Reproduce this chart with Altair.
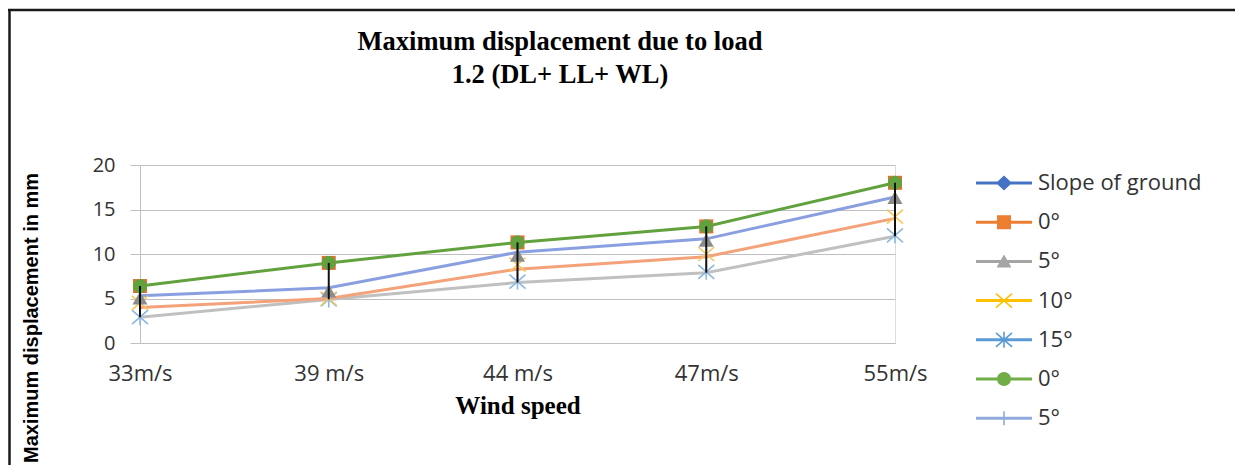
import math
import altair as alt
import pandas as pd

# ---------------- data ----------------
cats = ["33m/s", "39 m/s", "44 m/s", "47m/s", "55m/s"]

# marker-only series (first set)
mk_0 = [6.4, 9.0, 11.3, 13.1, 18.0]
mk_5 = [5.0, 5.8, 9.8, 11.5, 16.3]
mk_10 = [4.5, 5.0, 8.8, 10.0, 14.2]
mk_15 = [2.9, 4.9, 6.9, 8.0, 12.1]

# line series (second set)
ln_0 = [6.4, 9.0, 11.3, 13.1, 18.0]
ln_5 = [5.3, 6.2, 10.2, 11.7, 16.4]
ln_10 = [4.0, 5.0, 8.3, 9.7, 14.0]
ln_15 = [2.9, 4.9, 6.8, 7.9, 12.0]

legend_labels = ["Slope of ground", "0°", "5°", "10°", "15°", "0°", "5°"]
y_ticks = [0, 5, 10, 15, 20]

series = {
    "mk_0": mk_0, "mk_5": mk_5, "mk_10": mk_10, "mk_15": mk_15,
    "ln_0": ln_0, "ln_5": ln_5, "ln_10": ln_10, "ln_15": ln_15,
}
rows = []
for name, vals in series.items():
    for c, v in zip(cats, vals):
        rows.append({"cat": c, "series": name, "v": v})
df = pd.DataFrame(rows)

# ---------------- symbol paths (unit = 28 px) ----------------
U = 28.0


def poly(pts):
    area = 0.0
    for i in range(len(pts)):
        x1, y1 = pts[i]
        x2, y2 = pts[(i + 1) % len(pts)]
        area += x1 * y2 - x2 * y1
    if area < 0:
        pts = pts[::-1]
    return "M" + "L".join(f"{x:.4f},{y:.4f}" for x, y in pts) + "Z"


def seg(x1, y1, x2, y2, hw):
    x1, y1, x2, y2, hw = x1 / U, y1 / U, x2 / U, y2 / U, hw / U
    d = math.hypot(x2 - x1, y2 - y1)
    nx, ny = -(y2 - y1) / d * hw, (x2 - x1) / d * hw
    return poly([(x1 + nx, y1 + ny), (x2 + nx, y2 + ny), (x2 - nx, y2 - ny), (x1 - nx, y1 - ny)])


def shape(pts):
    return poly([(x / U, y / U) for x, y in pts])


line_p = seg(-28, 0, 28, 0, 1.5)
square_p = shape([(-7, -7), (7, -7), (7, 7), (-7, 7)])
diamond_p = shape([(0, -7.5), (8, 0), (0, 7.5), (-8, 0)])
tri_p = shape([(0, -7), (7.5, 6), (-7.5, 6)])
x_p = seg(-8, -7, 8, 7, 0.8) + seg(-8, 7, 8, -7, 0.8)
ast_p = x_p + seg(0, -8, 0, 8, 0.8)
circle_p = shape([(7 * math.cos(2 * math.pi * k / 32), 7 * math.sin(2 * math.pi * k / 32)) for k in range(32)])
plus_p = seg(0, -7, 0, 7, 0.8)

legend_keys = [f"{i}|{l}" for i, l in enumerate(legend_labels)]
legend_colors = ["#4472C4", "#ED7D31", "#A5A5A5", "#FFC000", "#5B9BD5", "#70AD47", "#8FAADC"]
legend_shapes = [line_p + m for m in [diamond_p, square_p, tri_p, x_p, ast_p, circle_p, plus_p]]

SIZE = int(U * 2) ** 2

# ---------------- scales ----------------
xs = alt.Scale(type="point", padding=0, domain=cats)
ys = alt.Scale(domain=[0, 20], nice=False, zero=True)

x_axis = alt.Axis(
    title="Wind speed", titleFont="Liberation Serif", titleFontSize=25,
    titleFontWeight="bold", titleColor="#000000", titleY=70, titleBaseline="alphabetic",
    labelFont="Open Sans", labelFontSize=22, labelColor="#333333", labelPadding=37,
    labelBaseline="alphabetic", labelAngle=0, ticks=False, grid=False,
    domainColor="#BFBFBF", domainWidth=1, labelOverlap=False,
)
y_axis = alt.Axis(
    values=y_ticks, title="Maximum displacement in mm", titleFont="Liberation Sans",
    titleFontSize=20, titleFontWeight="bold", titleColor="#000000", titleAngle=270,
    titleX=-109, titleY=152.5, titleAlign="center", titleBaseline="middle",
    labelFont="Open Sans", labelFontSize=20, labelColor="#333333", tickSize=10,
    tickColor="#BFBFBF", labelPadding=15, domainColor="#BFBFBF", gridColor="#BFBFBF",
    grid=True, format="d",
)

X = alt.X("cat:N", scale=xs, axis=x_axis, sort=cats)
Y = alt.Y("v:Q", scale=ys, axis=y_axis)
Xn = alt.X("cat:N", scale=xs, sort=cats)
Yn = alt.Y("v:Q", scale=ys)

base = alt.Chart(df)

layers = []


def lines(name, color):
    return base.transform_filter(alt.datum.series == name).mark_line(
        color=color, strokeWidth=3).encode(x=Xn, y=Yn)


def markers(name, path, color):
    return base.transform_filter(alt.datum.series == name).mark_point(
        shape=path, filled=True, color=color, size=SIZE, opacity=1, strokeWidth=0
    ).encode(x=Xn, y=Yn)


# axes carrier
layers.append(base.mark_point(opacity=0, size=1).encode(x=X, y=Y))

layers.append(lines("ln_15", "#C0C0C0"))
layers.append(lines("ln_10", "#F4A27A"))
layers.append(lines("ln_5", "#8A9FE0"))
layers.append(lines("ln_0", "#62A23E"))

layers.append(markers("mk_15", ast_p, "#8DB8E2"))
layers.append(markers("mk_10", x_p, "#F7C75A"))
layers.append(markers("mk_5", tri_p, "#8C8C8C"))
layers.append(markers("mk_0", square_p, "#E2702E"))
layers.append(markers("ln_0", circle_p, "#62A23E"))

# high-low lines
layers.append(
    base.transform_aggregate(lo="min(v)", hi="max(v)", groupby=["cat"])
    .mark_rule(color="#111111", strokeWidth=2)
    .encode(x=Xn, y=alt.Y("lo:Q", scale=ys), y2="hi:Q")
)

# legend carrier (rows have no value, so no mark is drawn)
leg_df = pd.DataFrame({"key": legend_keys, "cat": [cats[0]] * len(legend_keys), "v": [None] * len(legend_keys)})
leg = alt.Legend(
    title=None, orient="none", legendX=836, legendY=8, direction="vertical",
    labelExpr="split(datum.value, '|')[1]", labelFont="Open Sans", labelFontSize=22,
    labelColor="#333333", symbolSize=SIZE, symbolStrokeWidth=0, clipHeight=20,
    rowPadding=17.2, labelOffset=6, padding=0, labelLimit=400,
)
layers.append(
    alt.Chart(leg_df).mark_point(filled=True, size=SIZE, opacity=1, strokeWidth=0).encode(
        x=Xn, y=Yn,
        color=alt.Color("key:N", scale=alt.Scale(domain=legend_keys, range=legend_colors), legend=leg, sort=legend_keys),
        shape=alt.Shape("key:N", scale=alt.Scale(domain=legend_keys, range=legend_shapes), legend=leg, sort=legend_keys),
    )
)

# chart frame
frame_df = pd.DataFrame({"f": [0]})
layers.append(alt.Chart(frame_df).mark_rule(color="#1a1a1a", strokeWidth=2.5).encode(
    x=alt.value(-132), x2=alt.value(1095), y=alt.value(-155)))
layers.append(alt.Chart(frame_df).mark_rule(color="#1a1a1a", strokeWidth=2.5).encode(
    x=alt.value(-130.5), y=alt.value(-156), y2=alt.value(300)))

chart = alt.layer(*layers).properties(
    width=755, height=178,
    autosize=alt.AutoSizeParams(type="none"),
    padding={"left": 132, "top": 157, "right": 340, "bottom": 122},
    title=alt.TitleParams(
        text=["Maximum displacement due to load", "1.2 (DL+ LL+ WL)"],
        font="Liberation Serif", fontSize=26.5, fontWeight="bold", color="#000000",
        anchor="middle", frame="group", dx=42.5, dy=81, offset=0, lineHeight=33,
    ),
).configure_view(stroke=None).configure(background="white")

chart.save("out.html", embed_options={"renderer": "svg", "actions": False})
